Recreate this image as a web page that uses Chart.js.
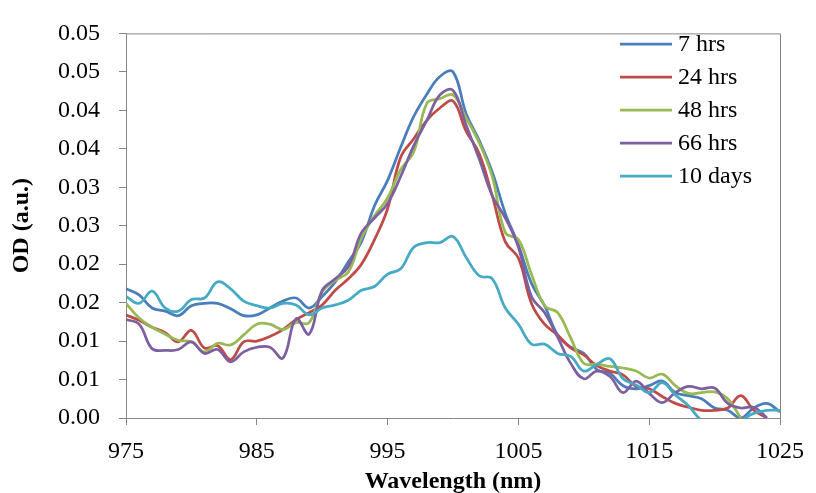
<!DOCTYPE html>
<html>
<head>
<meta charset="utf-8">
<script src="https://cdn.jsdelivr.net/npm/chart.js@4.4.1/dist/chart.umd.min.js"></script>
<style>
  html, body { margin: 0; padding: 0; background: #fff; }
  #wrap { width: 816px; height: 493px; }
</style>
</head>
<body>
<div id="wrap"><canvas id="odChart" width="816" height="493"></canvas></div>
<script>
// Wavelength samples (nm)
const wavelengths = [975, 976, 977, 978, 979, 980, 981, 982, 983, 984,
    985, 986, 987, 988, 989, 990, 991, 992, 993, 994,
    995, 996, 997, 998, 999, 1000, 1001, 1002, 1003, 1004,
    1005, 1006, 1007, 1008, 1009, 1010, 1011, 1012, 1013, 1014,
    1015, 1016, 1017, 1018, 1019, 1020, 1021, 1022, 1023, 1024, 1025];

const seriesLabels = ['7 hrs', '24 hrs', '48 hrs', '66 hrs', '10 days'];

const od7hrs = [0.0168, 0.0160, 0.0143, 0.0139, 0.0133, 0.0146, 0.0149, 0.0149, 0.0142, 0.0133,
    0.0134, 0.0143, 0.0152, 0.0156, 0.0143, 0.0158, 0.0177, 0.0203, 0.0229, 0.0276,
    0.0309, 0.0352, 0.0392, 0.0421, 0.0444, 0.0450, 0.0396, 0.0361, 0.0320, 0.0266,
    0.0225, 0.0175, 0.0146, 0.0108, 0.0092, 0.0084, 0.0063, 0.0058, 0.0042, 0.0038,
    0.0042, 0.0048, 0.0033, 0.0029, 0.0025, 0.0013, 0.0010, 0.0000, 0.0013, 0.0019, 0.0008];

const od24hrs = [0.0134, 0.0127, 0.0118, 0.0111, 0.0099, 0.0114, 0.0091, 0.0094, 0.0076, 0.0099,
    0.0100, 0.0106, 0.0115, 0.0128, 0.0137, 0.0147, 0.0166, 0.0181, 0.0200, 0.0232,
    0.0272, 0.0339, 0.0363, 0.0387, 0.0403, 0.0412, 0.0373, 0.0344, 0.0289, 0.0229,
    0.0208, 0.0149, 0.0122, 0.0108, 0.0091, 0.0082, 0.0068, 0.0061, 0.0056, 0.0041,
    0.0038, 0.0028, 0.0019, 0.0014, 0.0010, 0.0010, 0.0013, 0.0029, 0.0010, 0.0000, null];

const od48hrs = [0.0149, 0.0130, 0.0118, 0.0109, 0.0101, 0.0099, 0.0086, 0.0097, 0.0095, 0.0108,
    0.0122, 0.0122, 0.0115, 0.0124, 0.0124, 0.0164, 0.0179, 0.0190, 0.0234, 0.0263,
    0.0286, 0.0323, 0.0346, 0.0409, 0.0415, 0.0420, 0.0390, 0.0358, 0.0314, 0.0241,
    0.0232, 0.0187, 0.0146, 0.0137, 0.0104, 0.0071, 0.0070, 0.0067, 0.0065, 0.0061,
    0.0052, 0.0057, 0.0042, 0.0032, 0.0033, 0.0034, 0.0025, 0.0000, null, null, null];

const od66hrs = [0.0128, 0.0122, 0.0090, 0.0088, 0.0089, 0.0099, 0.0084, 0.0089, 0.0073, 0.0086,
    0.0092, 0.0092, 0.0078, 0.0129, 0.0109, 0.0166, 0.0181, 0.0197, 0.0241, 0.0260,
    0.0279, 0.0314, 0.0354, 0.0387, 0.0420, 0.0426, 0.0381, 0.0337, 0.0289, 0.0260,
    0.0222, 0.0158, 0.0137, 0.0105, 0.0071, 0.0051, 0.0061, 0.0054, 0.0033, 0.0048,
    0.0032, 0.0020, 0.0033, 0.0041, 0.0038, 0.0039, 0.0019, 0.0013, 0.0014, 0.0000, null];

const od10days = [0.0158, 0.0149, 0.0165, 0.0143, 0.0139, 0.0154, 0.0156, 0.0177, 0.0168, 0.0152,
    0.0146, 0.0143, 0.0149, 0.0147, 0.0134, 0.0143, 0.0147, 0.0153, 0.0166, 0.0171,
    0.0187, 0.0194, 0.0222, 0.0228, 0.0228, 0.0236, 0.0209, 0.0185, 0.0181, 0.0143,
    0.0122, 0.0096, 0.0096, 0.0084, 0.0080, 0.0061, 0.0070, 0.0077, 0.0051, 0.0043,
    0.0033, 0.0046, 0.0030, 0.0016, -0.0003, -0.0009, -0.0009, -0.0003, 0.0006, 0.0010, 0.0010];

const seriesColors = ['#4a7ebb', '#be4b48', '#98b954', '#7d60a0', '#46aac5'];

// Axis ticks (labels are rounded to two decimals as in the original)
const xTickValues = [975, 985, 995, 1005, 1015, 1025];
const yTickValues = [0, 0.005, 0.01, 0.015, 0.02, 0.025, 0.03, 0.035, 0.04, 0.045, 0.05];
const yTickLabels = ['0.00', '0.01', '0.01', '0.02', '0.02', '0.03', '0.03', '0.04', '0.04', '0.05', '0.05'];

const FONT = "'Liberation Serif', 'Times New Roman', serif";
const AXIS_GRAY = '#868686';

function toPoints(values) {
    return wavelengths.map((x, i) => ({ x: x, y: values[i] }));
}

const allSeries = [od7hrs, od24hrs, od48hrs, od66hrs, od10days];

// Top/right frame of the plot area
const framePlugin = {
    id: 'frame',
    afterDraw(chart) {
        const { ctx, chartArea: a } = chart;
        ctx.save();
        ctx.strokeStyle = AXIS_GRAY;
        ctx.lineWidth = 1;
        ctx.beginPath();
        ctx.moveTo(a.left, a.top + 0.5);
        ctx.lineTo(a.right + 0.5, a.top + 0.5);
        ctx.lineTo(a.right + 0.5, a.bottom);
        ctx.stroke();
        ctx.restore();
    }
};

// Legend drawn inside the plot, top right
const legendPlugin = {
    id: 'insideLegend',
    afterDatasetsDraw(chart) {
        const { ctx } = chart;
        ctx.save();
        ctx.font = '24px ' + FONT;
        ctx.textBaseline = 'middle';
        ctx.fillStyle = '#000';
        seriesLabels.forEach((label, i) => {
            const y = 44 + i * 33;
            ctx.strokeStyle = seriesColors[i];
            ctx.lineWidth = 2.75;
            ctx.beginPath();
            ctx.moveTo(620, y);
            ctx.lineTo(672, y);
            ctx.stroke();
            ctx.fillText(label, 678, y + 1);
        });
        ctx.restore();
    }
};

const ctx = document.getElementById('odChart').getContext('2d');
new Chart(ctx, {
    type: 'line',
    data: {
        datasets: allSeries.map((vals, i) => ({
            label: seriesLabels[i],
            data: toPoints(vals),
            borderColor: seriesColors[i],
            backgroundColor: seriesColors[i],
            borderWidth: 2.75,
            pointRadius: 0,
            tension: 0.4,
            fill: false,
            spanGaps: false,
            order: allSeries.length - i
        }))
    },
    options: {
        responsive: false,
        animation: false,
        events: [],
        layout: { padding: { top: 23, right: 29, left: 0, bottom: 0 } },
        plugins: {
            legend: { display: false },
            tooltip: { enabled: false }
        },
        scales: {
            x: {
                type: 'linear',
                min: 975,
                max: 1025,
                afterBuildTicks: scale => { scale.ticks = xTickValues.map(v => ({ value: v })); },
                afterFit: scale => { scale.height = 75; },
                grid: { drawOnChartArea: false, drawTicks: true, tickLength: 7, color: AXIS_GRAY },
                border: { color: AXIS_GRAY, width: 1 },
                ticks: {
                    color: '#000',
                    font: { family: FONT, size: 24 },
                    padding: 12,
                    maxRotation: 0,
                    callback: value => String(value)
                },
                title: {
                    display: true,
                    text: 'Wavelength (nm)',
                    color: '#000',
                    font: { family: FONT, size: 24, weight: 'bold', lineHeight: 1 },
                    padding: { top: 0, bottom: -1 }
                }
            },
            y: {
                min: 0,
                max: 0.05,
                afterBuildTicks: scale => { scale.ticks = yTickValues.map(v => ({ value: v })); },
                afterFit: scale => { scale.width = 126; },
                grid: { drawOnChartArea: false, drawTicks: true, tickLength: 7, color: AXIS_GRAY },
                border: { color: AXIS_GRAY, width: 1 },
                ticks: {
                    color: '#000',
                    font: { family: FONT, size: 24 },
                    padding: 19,
                    callback: (value, index) => yTickLabels[index]
                },
                title: {
                    display: true,
                    text: 'OD (a.u.)',
                    color: '#000',
                    font: { family: FONT, size: 24, weight: 'bold', lineHeight: 1 },
                    padding: { top: 10, bottom: 0 }
                }
            }
        }
    },
    plugins: [framePlugin, legendPlugin]
});
</script>
</body>
</html>
